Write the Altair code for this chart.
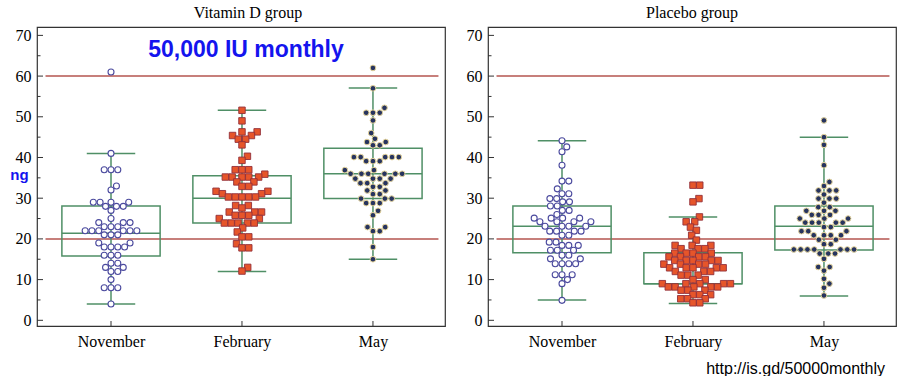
import math
import altair as alt
import pandas as pd

# ---------------- data ----------------
months = ["November", "February", "May"]
groups = ["Vitamin D group", "Placebo group"]

vitd_nov = [61, 41, 37, 37, 37, 33, 32, 29, 29, 29, 29, 28, 28, 28, 27, 25, 24, 24, 24,
            23, 23, 23, 22, 22, 22, 22, 22, 22, 21, 21, 21, 19, 19, 18, 18, 18, 18,
            16, 16, 16, 14, 14, 13, 13, 12, 12, 10, 8, 8, 8, 4]
vitd_feb = [51.6, 49.0, 46.3, 46.3, 45.4, 45.4, 44.5, 44.5, 43.1, 40.3, 39.3, 37.0, 37.0, 37.0,
            35.9, 35.2, 35.2, 35.2, 35.2, 35.2, 34.0, 34.0, 32.9, 32.9, 31.7, 31.7, 31.1, 31.1,
            30.3, 30.3, 30.3, 30.3, 30.3, 28.2, 28.2, 27.6, 26.6, 26.6, 26.6, 25.8, 25.8, 25.8,
            25.0, 25.0, 23.9, 23.9, 23.9, 23.9, 23.9, 22.7, 21.7, 20.5, 20.5, 18.8, 17.8, 17.8,
            13.0, 12.1]
vitd_may = [62, 57, 52.2, 51, 51, 51, 49.1, 46.0, 44.6, 43.8, 43.8, 43.0, 43.0, 40.1, 40.1, 40.1,
            40.1, 40.1, 39.1, 39.1, 39.1, 36.9, 36.9, 36.0, 36.0, 36.0, 36.0, 36.0, 36.0, 34.8,
            34.8, 34.8, 34.8, 33.7, 33.7, 33.7, 32.8, 32.8, 31.9, 31.9, 31.0, 31.0, 29.9, 29.9,
            29.9, 28.8, 28.8, 28.8, 26.9, 25.8, 22.9, 22.9, 21.9, 21.9, 18.0, 15.0]
plac_nov = [44.1, 42.6, 41.4, 38.1, 34.2, 34.2, 32.3, 31.1, 31.1, 29.9, 29.9, 29.1, 29.1, 28.1,
            28.1, 27.0, 27.0, 26.0, 25.1, 25.1, 25.1, 25.1, 24.2, 24.2, 24.2, 24.2, 23.1, 23.1,
            23.1, 23.1, 21.9, 21.9, 21.9, 21.9, 20.9, 20.9, 19.2, 19.2, 18.4, 18.4, 18.4, 17.2,
            17.2, 17.2, 16.0, 16.0, 15.1, 15.1, 13.9, 13.9, 13.9, 13.9, 11.2, 11.2, 11.2, 10.0,
            9.0, 4.9]
plac_feb = [33.2, 33.2, 29.9, 29.1, 25.4, 24.2, 24.2, 22.9, 22.1, 20.9, 19.7, 18.4, 18.4, 18.4,
            17.6, 17.6, 17.6, 16.5, 16.5, 16.5, 16.5, 15.6, 15.6, 15.6, 15.6, 14.7, 14.7, 14.7,
            14.7, 14.7, 13.8, 13.8, 13.8, 13.8, 12.9, 12.9, 12.9, 12.9, 12.9, 12.0, 12.0, 12.0,
            11.1, 11.1, 11.1, 10.0, 10.0, 9.0, 9.0, 9.0, 9.0, 9.0, 8.2, 8.2, 8.2, 8.2, 8.2,
            7.4, 7.4, 7.4, 6.3, 6.3, 6.3, 5.3, 5.3, 5.3, 4.3, 4.3]
plac_may = [49.1, 45.0, 43.1, 38.1, 34.0, 33.0, 31.9, 31.9, 31.9, 30.9, 29.9, 29.9, 29.9, 28.9,
            27.8, 27.8, 26.9, 26.9, 26.9, 25.9, 25.9, 25.9, 25.0, 25.0, 25.0, 24.0, 24.0, 24.0,
            24.0, 24.0, 22.9, 22.9, 21.9, 21.9, 21.9, 20.9, 20.9, 20.9, 20.9, 19.8, 19.8, 18.7,
            18.7, 17.4, 17.4, 17.4, 17.4, 17.4, 17.4, 17.4, 16.4, 16.4, 16.4, 15.1, 13.1, 13.1,
            12.2, 10.2, 9.0, 8.0, 6.1]

# box statistics (Q1, median, Q3, whisker low, whisker high) per month
vitd_q1 = [15.8, 23.9, 29.9]
vitd_med = [21.4, 30.0, 36.0]
vitd_q3 = [28.1, 35.5, 42.3]
vitd_lo = [4.0, 12.0, 15.0]
vitd_hi = [41.0, 51.6, 57.1]
plac_q1 = [16.6, 9.0, 17.3]
plac_med = [23.1, 9.0, 23.1]
plac_q3 = [28.1, 16.6, 28.1]
plac_lo = [5.0, 4.1, 6.0]
plac_hi = [44.1, 25.4, 45.0]

ref_lines = [20, 60]
y_major = [0, 10, 20, 30, 40, 50, 60, 70]
y_minor = [5, 15, 25, 35, 45, 55, 65]
annot_text = "50,000 IU monthly"
y_unit = "ng"
source_text = "http://is.gd/50000monthly"

# ---------------- layout constants ----------------
W, H = 408, 299
XDOM = [0.435, 3.55]
YDOM = [-1.4, 72.06]
PPX = W / (XDOM[1] - XDOM[0])
PPY = H / (YDOM[1] - YDOM[0])
DOT_D = 6.8  # swarm spacing in px

GREEN = "#4f8f66"
RED = "#b5554f"
SERIF = "Liberation Serif"


def swarm(values, d=DOT_D):
    """simple beeswarm: returns x offsets in data units"""
    placed = []
    out = {}
    order = sorted(range(len(values)), key=lambda i: values[i])
    for i in order:
        y = values[i] * PPY
        cands = [0.0]
        for px, py in placed:
            dy = abs(py - y)
            if dy < d:
                dx = math.sqrt(d * d - dy * dy)
                cands += [px + dx, px - dx]
        cands.sort(key=lambda c: (round(abs(c), 6), c < 0))
        chosen = 0.0
        for c in cands:
            if all((c - px) ** 2 + (y - py) ** 2 >= d * d - 1e-6 for px, py in placed):
                chosen = c
                break
        placed.append((chosen, y))
        out[i] = chosen
    return [out[i] / PPX for i in range(len(values))]


series = {
    groups[0]: [vitd_nov, vitd_feb, vitd_may],
    groups[1]: [plac_nov, plac_feb, plac_may],
}
stats = {
    groups[0]: (vitd_q1, vitd_med, vitd_q3, vitd_lo, vitd_hi),
    groups[1]: (plac_q1, plac_med, plac_q3, plac_lo, plac_hi),
}

XS = alt.Scale(domain=XDOM, nice=False, zero=False)
YS = alt.Scale(domain=YDOM, nice=False, zero=False)
label_expr = "[''," + ",".join("'%s'" % m for m in months) + "][datum.value]"
XAX = alt.Axis(values=[1, 2, 3], labelExpr=label_expr, title=None, ticks=False, domain=False,
               grid=False, labelFont=SERIF, labelFontSize=16, labelColor="black", labelPadding=7)


def yaxis(with_title):
    kw = dict(values=y_major, ticks=False, domain=False, grid=False, labelFont=SERIF,
              labelFontSize=16, labelColor="black", labelPadding=6)
    if with_title:
        return alt.Axis(title=y_unit, titleColor="#1414ee", titleFont="Liberation Sans",
                        titleFontWeight="bold", titleFontSize=15, titleAngle=0,
                        titleX=-18, titleY=147, titleAlign="center", titleBaseline="middle", **kw)
    return alt.Axis(title=None, **kw)


def panel(gi):
    g = groups[gi]
    YAX = yaxis(gi == 0)

    def X(f):
        return alt.X(f"{f}:Q", scale=XS, axis=XAX)

    def Y(f):
        return alt.Y(f"{f}:Q", scale=YS, axis=YAX)

    rows = []
    for mi, vals in enumerate(series[g]):
        offs = swarm(vals)
        for v, o in zip(vals, offs):
            rows.append({"month": months[mi], "pos": mi + 1 + o, "value": v})
    pts = pd.DataFrame(rows)

    q1, med, q3, lo, hi = stats[g]
    box = pd.DataFrame({"month": months, "pos": [1, 2, 3], "q1": q1, "med": med,
                        "q3": q3, "lo": lo, "hi": hi})
    boxb = alt.Chart(box).transform_calculate(
        l="datum.pos - 0.375", r="datum.pos + 0.375",
        wl="datum.pos - 0.185", wr="datum.pos + 0.185")

    refs = alt.Chart(pd.DataFrame({"v": ref_lines})).transform_calculate(
        a="0.5", b="3.5").mark_rule(color=RED, strokeWidth=1.5).encode(
        x=X("a"), x2="b", y=Y("v"))

    rect = boxb.mark_rect(fillOpacity=0, stroke=GREEN, strokeWidth=1.5).encode(
        x=X("l"), x2="r", y=Y("q1"), y2="q3")
    medl = boxb.mark_rule(color=GREEN, strokeWidth=1.5).encode(x=X("l"), x2="r", y=Y("med"))
    vert = boxb.mark_rule(color=GREEN, strokeWidth=1.5).encode(x=X("pos"), y=Y("lo"), y2="hi")
    capl = boxb.mark_rule(color=GREEN, strokeWidth=1.5).encode(x=X("wl"), x2="wr", y=Y("lo"))
    caph = boxb.mark_rule(color=GREEN, strokeWidth=1.5).encode(x=X("wl"), x2="wr", y=Y("hi"))

    base = alt.Chart(pts)
    p_nov = base.transform_filter(alt.datum.month == months[0]).mark_point(
        shape="circle", filled=True, fill="white", stroke="#4b4a9e", strokeWidth=1.1,
        size=36, opacity=1).encode(x=X("pos"), y=Y("value"))
    p_feb = base.transform_filter(alt.datum.month == months[1]).mark_point(
        shape="square", filled=True, fill="#e6552a", stroke="#93303a", strokeWidth=0.9,
        size=42, opacity=1).encode(x=X("pos"), y=Y("value"))
    p_may = base.transform_filter(alt.datum.month == months[2]).mark_point(
        shape="circle", filled=True, fill="#27345f", stroke="#e6d59c", strokeWidth=1.0,
        size=32, opacity=1).encode(x=X("pos"), y=Y("value"))

    ymaj = alt.Chart(pd.DataFrame({"t": y_major})).mark_rule(color="#333333", strokeWidth=1).encode(
        y=Y("t"), x=alt.value(0), x2=alt.value(6))
    ymin = alt.Chart(pd.DataFrame({"t": y_minor})).mark_rule(color="#333333", strokeWidth=1).encode(
        y=Y("t"), x=alt.value(0), x2=alt.value(3.5))
    xt = alt.Chart(pd.DataFrame({"p": [1, 2, 3]})).mark_rule(color="#333333", strokeWidth=1).encode(
        x=X("p"), y=alt.value(H), y2=alt.value(H - 5))

    layers = [refs, rect, medl, vert, capl, caph, p_nov, p_feb, p_may, ymaj, ymin, xt]

    if gi == 0:
        ann = alt.Chart(pd.DataFrame({"t": [annot_text]})).mark_text(
            font="Liberation Sans", fontWeight="bold", fontSize=23, color="#1414ee",
            align="center", baseline="middle").encode(
            text="t:N", x=alt.value(209), y=alt.value(23))
        layers.append(ann)
    else:
        src = alt.Chart(pd.DataFrame({"t": [source_text]})).mark_text(
            font="Liberation Sans", fontSize=16, color="black",
            align="right", baseline="middle").encode(
            text="t:N", x=alt.value(397), y=alt.value(342))
        layers.append(src)

    title = alt.TitleParams(g, font=SERIF, fontSize=16, fontWeight="normal", color="black",
                            offset=6, dx=7 if gi == 0 else 0)
    return alt.layer(*layers).properties(width=W, height=H, title=title)


chart = alt.hconcat(panel(0), panel(1), spacing=19).configure_view(
    stroke="#333333", strokeWidth=1.2).properties(
    padding={"left": 9, "top": 4, "right": 5, "bottom": 0}, background="white")

chart.save("out.html", embed_options={"renderer": "svg", "actions": False})
